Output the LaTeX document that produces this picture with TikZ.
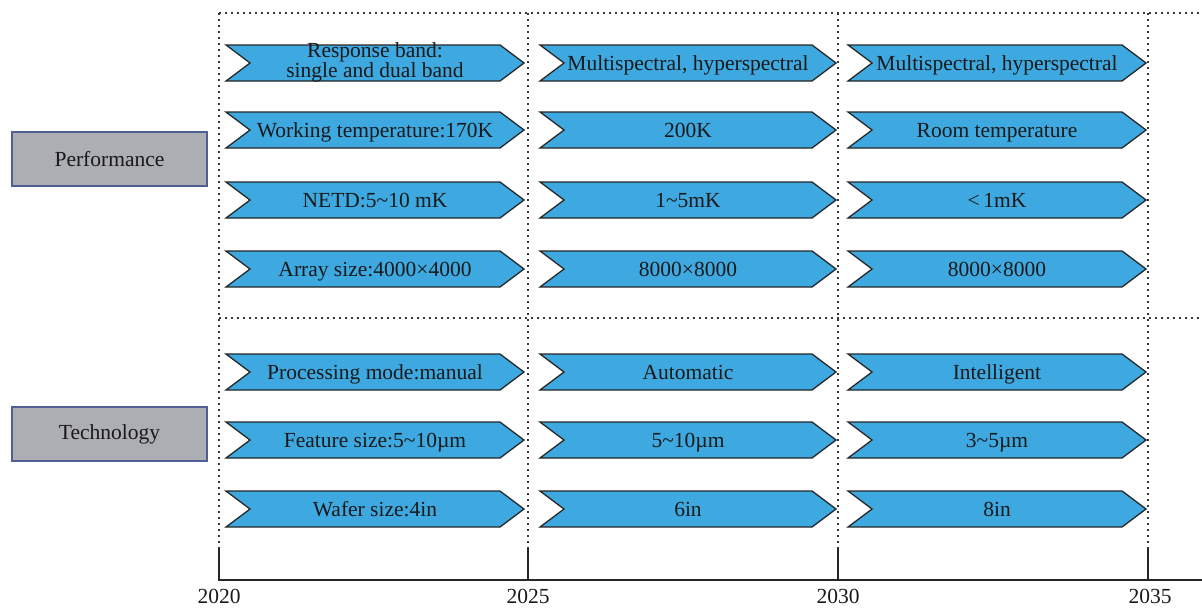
\documentclass[tikz,border=0pt]{standalone}
\usepackage{fontspec}
\setmainfont{Liberation Serif}
\definecolor{arrowblue}{RGB}{62,169,224}
\definecolor{boxgray}{RGB}{173,174,179}
\definecolor{boxedge}{RGB}{80,95,145}
\definecolor{dotgray}{RGB}{55,55,55}
\newcommand\chevronbox[6][7]{%
  \draw[chev] ({#3},{#4-18}) -- ({#3+#5-24},{#4-18}) -- ({#3+#5},{#4}) -- ({#3+#5-24},{#4+18}) -- ({#3},{#4+18}) -- ({#3+24},{#4}) -- cycle;
  \node[lbl] (#2) at ({#3+#5/2},{#4+#1}) {#6};}
\tikzset{
  chev/.style={draw=black!85, line width=1.3pt, fill=arrowblue, line join=miter},
  lbl/.style={font=\fontsize{21.5}{16}\selectfont, align=center, inner sep=0pt, anchor=base, text=black!90},
  catbox/.style={draw=boxedge, line width=1.2pt, fill=boxgray, minimum width=195pt, minimum height=54pt, inner sep=0pt, font=\fontsize{21.5}{24}\selectfont, text=black!90},
  gridline/.style={draw=dotgray, line width=1.7pt, dash pattern=on 1.7pt off 4.3pt},
  axisline/.style={draw=black!85, line width=1.5pt},
  yearlbl/.style={font=\fontsize{21.5}{24}\selectfont, inner sep=0pt, text=black!90}
}
\begin{document}
\begin{tikzpicture}[x=1pt,y=-1pt]
\useasboundingbox (0,0) rectangle (1202,608);
% coordinates for the grid
\coordinate (t0) at (219,13);
\coordinate (t1) at (528,13);
\coordinate (t2) at (838,13);
\coordinate (t3) at (1148,13);
\coordinate (tr) at (1202,13);
\coordinate (m0) at (219,318);
\coordinate (mr) at (1202,318);
\coordinate (k0) at (219,548);
\coordinate (k1) at (528,548);
\coordinate (k2) at (838,548);
\coordinate (k3) at (1148,548);
\coordinate (b0) at (219,580);
\coordinate (b1) at (528,580);
\coordinate (b2) at (838,580);
\coordinate (b3) at (1148,580);
\coordinate (br) at (1202,580);
% dotted grid
\draw[gridline] (t0) -- (tr);
\draw[gridline] (m0) -- (mr);
\draw[gridline] (t0) -- (k0);
\draw[gridline] (t1) -- (k1);
\draw[gridline] (t2) -- (k2);
\draw[gridline] (t3) -- (k3);
% axis
\draw[axisline] (k0) -- (b0) -- (br);
\draw[axisline] (k1) -- (b1);
\draw[axisline] (k2) -- (b2);
\draw[axisline] (k3) -- (b3);
% year labels
\node[yearlbl] (y2020) at (219,596.5) {2020};
\node[yearlbl] (y2025) at (528,596.5) {2025};
\node[yearlbl] (y2030) at (838,596.5) {2030};
\node[yearlbl] (y2035) at (1150,596.5) {2035};
% category boxes
\node[catbox] (perf) at (109.5,159) {Performance};
\node[catbox] (tech) at (109.5,434) {Technology};
% row 1
\chevronbox[14.5]{r1a}{226}{63}{298}{Response band:\\single and dual band}
\chevronbox{r1b}{540}{63}{296}{Multispectral, hyperspectral}
\chevronbox{r1c}{848}{63}{298}{Multispectral, hyperspectral}
% row 2
\chevronbox{r2a}{226}{130}{298}{Working temperature:170K}
\chevronbox{r2b}{540}{130}{296}{200K}
\chevronbox{r2c}{848}{130}{298}{Room temperature}
% row 3
\chevronbox{r3a}{226}{200}{298}{NETD:5\char"007E 10 mK}
\chevronbox{r3b}{540}{200}{296}{1\char"007E 5mK}
\chevronbox{r3c}{848}{200}{298}{<\,1mK}
% row 4
\chevronbox{r4a}{226}{269}{298}{Array size:4000×4000}
\chevronbox{r4b}{540}{269}{296}{8000×8000}
\chevronbox{r4c}{848}{269}{298}{8000×8000}
% row 5
\chevronbox{r5a}{226}{372}{298}{Processing mode:manual}
\chevronbox{r5b}{540}{372}{296}{Automatic}
\chevronbox{r5c}{848}{372}{298}{Intelligent}
% row 6
\chevronbox{r6a}{226}{440}{298}{Feature size:5\char"007E 10µm}
\chevronbox{r6b}{540}{440}{296}{5\char"007E 10µm}
\chevronbox{r6c}{848}{440}{298}{3\char"007E 5µm}
% row 7
\chevronbox{r7a}{226}{509}{298}{Wafer size:4in}
\chevronbox{r7b}{540}{509}{296}{6in}
\chevronbox{r7c}{848}{509}{298}{8in}
\end{tikzpicture}
\end{document}
